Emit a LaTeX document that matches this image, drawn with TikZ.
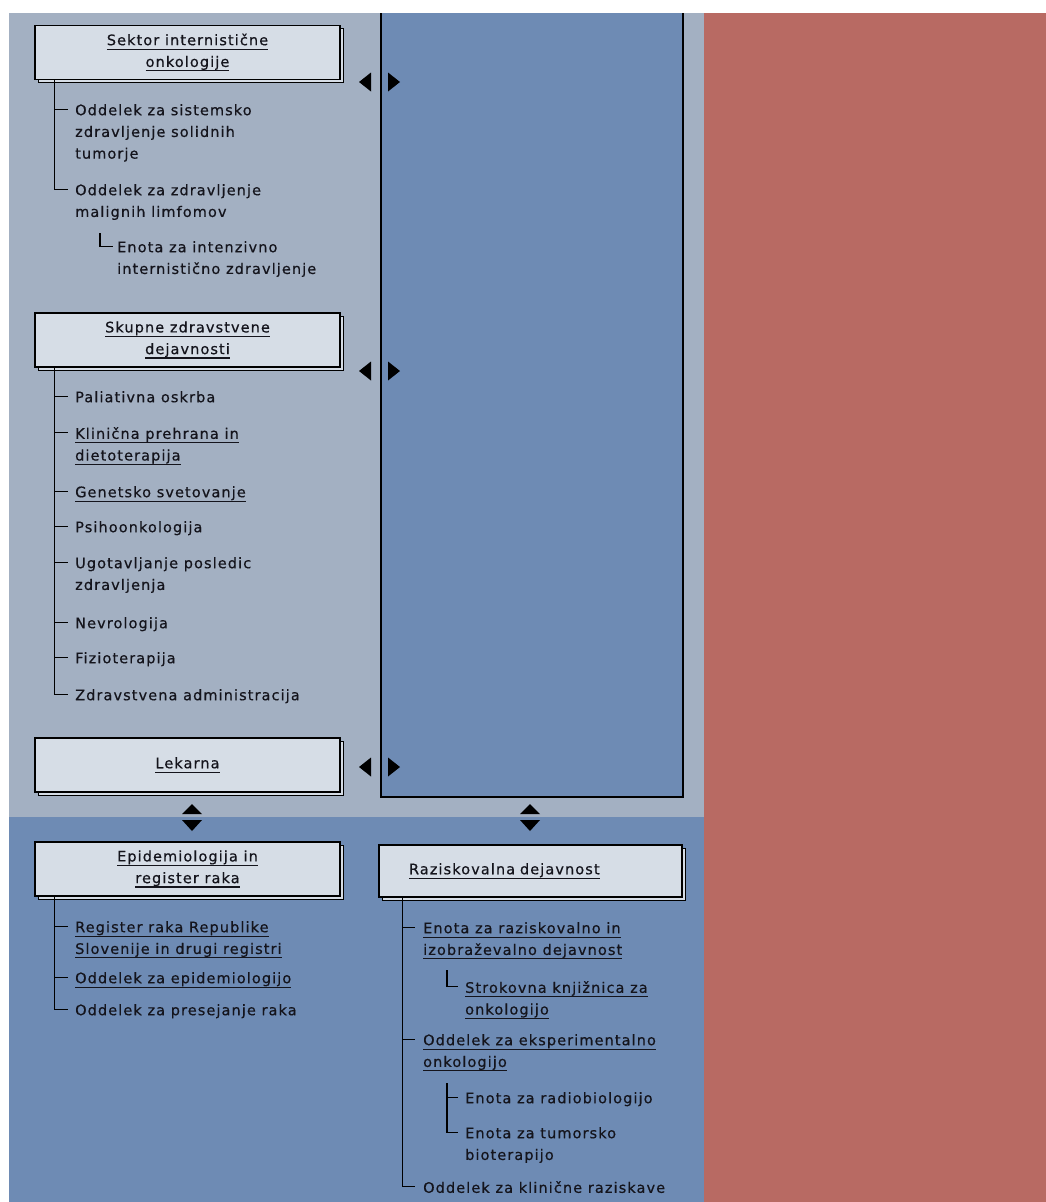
\documentclass[tikz,border=0pt]{standalone}
\usepackage{fontspec}
\newfontfamily\orgfont{DejaVu Sans}[LetterSpace=7.5,FakeBold=0.5]
\usepackage{xcolor}
\usepackage{tikz}
\usetikzlibrary{shadows}

\definecolor{panelgray}{RGB}{163,176,194}
\definecolor{panelblue}{RGB}{110,139,180}
\definecolor{panelred}{RGB}{184,106,99}
\definecolor{boxfill}{RGB}{214,221,230}
\definecolor{inkcol}{RGB}{20,20,28}
\newcommand\orgtext{\orgfont\fontsize{14.5}{21.7}\selectfont}
\newcommand\lnk[1]{\setbox0=\hbox{#1}\rlap{\rule[-4.5pt]{\wd0}{1.2pt}}\box0}

\begin{document}
\begin{tikzpicture}[x=1pt,y=-1pt,
					unit/.style={
						draw=black, line width=1.3pt, fill=boxfill,
						minimum width=305pt, minimum height=54pt,
						align=center, inner sep=0pt, font=\orgtext, text=inkcol,
						general shadow={draw=black, line width=1pt, fill=boxfill,
							shadow xshift=3pt, shadow yshift=-3pt}
					},
					item/.style={
						anchor=north west, inner sep=0pt, align=left,
						font=\orgtext, text=inkcol
					},
					tree/.style={line width=1.4pt, black}
					]
					% ozadje
					\fill[white] (0,0) rectangle (1046,1202);
					\fill[panelgray] (9,13) rectangle (704,817);
					\fill[panelblue] (9,817) rectangle (704,1202);
					\fill[panelred] (704,13) rectangle (1046,1202);
					\fill[panelblue] (381,13) rectangle (683,797);
					\draw[line width=1.5pt] (381,13) |- (683,797) -- (683,13);
					
					% sektorji
					\node[unit] (sek) at (187.5,52.5) {\lnk{Sektor internistične}\\\lnk{onkologije}};
					\node[unit] (skup) at (187.5,340) {\lnk{Skupne zdravstvene}\\\lnk{dejavnosti}};
					\node[unit] (lek) at (187.5,765) {\lnk{Lekarna}};
					\node[unit] (epi) at (187.5,869) {\lnk{Epidemiologija in}\\\lnk{register raka}};
					\node[unit, minimum width=303pt, minimum height=52pt, text width=243pt,
						align=left, inner xsep=30pt] (raz) at (530.5,871) {\lnk{Raziskovalna dejavnost}};
					
					% puscice
					\foreach \ay in {82,371,767} {
						\fill (371,\ay-9.5) -- (371,\ay+9.5) -- (359,\ay) -- cycle;
						\fill (388,\ay-9.5) -- (388,\ay+9.5) -- (400,\ay) -- cycle;
					}
					\foreach \ax in {192,530} {
						\fill (\ax-10,814) -- (\ax+10,814) -- (\ax,804) -- cycle;
						\fill (\ax-10,820) -- (\ax+10,820) -- (\ax,831) -- cycle;
					}
					
					% Sektor internisticne onkologije
					\node[item] (i11) at (75,104) {Oddelek za sistemsko\\zdravljenje solidnih\\tumorje};
					\node[item] (i12) at (75,184) {Oddelek za zdravljenje\\malignih limfomov};
					\node[item] (i13) at (117,241) {Enota za intenzivno\\internistično zdravljenje};
					\draw[tree] ([xshift=20pt]sek.south west) |- ([xshift=-7pt,yshift=-5.5pt]i12.north west);
					\draw[tree] ([xshift=-20pt,yshift=-5.5pt]i11.north west) -- ([xshift=-7pt,yshift=-5.5pt]i11.north west);
					\draw[tree] ([xshift=-17pt,yshift=8pt]i13.north west) |- ([xshift=-4pt,yshift=-5.5pt]i13.north west);
					
					% Skupne zdravstvene dejavnosti
					\node[item] (i21) at (75,391) {Paliativna oskrba};
					\node[item] (i22) at (75,427) {\lnk{Klinična prehrana in}\\\lnk{dietoterapija}};
					\node[item] (i23) at (75,486) {\lnk{Genetsko svetovanje}};
					\node[item] (i24) at (75,521) {Psihoonkologija};
					\node[item] (i25) at (75,557) {Ugotavljanje posledic\\zdravljenja};
					\node[item] (i26) at (75,617) {Nevrologija};
					\node[item] (i27) at (75,652) {Fizioterapija};
					\node[item] (i28) at (75,689) {Zdravstvena administracija};
					\draw[tree] ([xshift=20pt]skup.south west) |- ([xshift=-7pt,yshift=-5.5pt]i28.north west);
					\foreach \i in {21,...,27} {
						\draw[tree] ([xshift=-20pt,yshift=-5.5pt]i\i.north west) -- ([xshift=-7pt,yshift=-5.5pt]i\i.north west);
					}
					
					% Epidemiologija in register raka
					\node[item] (i41) at (75,921) {\lnk{Register raka Republike}\\\lnk{Slovenije in drugi registri}};
					\node[item] (i42) at (75,972) {\lnk{Oddelek za epidemiologijo}};
					\node[item] (i43) at (75,1004) {Oddelek za presejanje raka};
					\draw[tree] ([xshift=20pt]epi.south west) |- ([xshift=-7pt,yshift=-5.5pt]i43.north west);
					\foreach \i in {41,42} {
						\draw[tree] ([xshift=-20pt,yshift=-5.5pt]i\i.north west) -- ([xshift=-7pt,yshift=-5.5pt]i\i.north west);
					}
					
					% Raziskovalna dejavnost
					\node[item] (i51) at (423,922) {\lnk{Enota za raziskovalno in}\\\lnk{izobraževalno dejavnost}};
					\node[item] (i52) at (465,981) {\lnk{Strokovna knjižnica za}\\\lnk{onkologijo}};
					\node[item] (i53) at (423,1034) {\lnk{Oddelek za eksperimentalno}\\\lnk{onkologijo}};
					\node[item] (i54) at (465,1092) {Enota za radiobiologijo};
					\node[item] (i55) at (465,1127) {Enota za tumorsko\\bioterapijo};
					\node[item] (i56) at (423,1181) {Oddelek za klinične raziskave};
					\draw[tree] ([xshift=24pt]raz.south west) |- ([xshift=-8pt,yshift=-5.5pt]i56.north west);
					\foreach \i in {51,53} {
						\draw[tree] ([xshift=-20pt,yshift=-5.5pt]i\i.north west) -- ([xshift=-8pt,yshift=-5.5pt]i\i.north west);
					}
					\draw[tree] ([xshift=-18pt,yshift=11pt]i52.north west) |- ([xshift=-7pt,yshift=-5.5pt]i52.north west);
					\draw[tree] ([xshift=-18pt,yshift=9pt]i54.north west) |- ([xshift=-7pt,yshift=-5.5pt]i55.north west);
					\draw[tree] ([xshift=-18pt,yshift=-5.5pt]i54.north west) -- ([xshift=-7pt,yshift=-5.5pt]i54.north west);
				\end{tikzpicture}
\end{document}
